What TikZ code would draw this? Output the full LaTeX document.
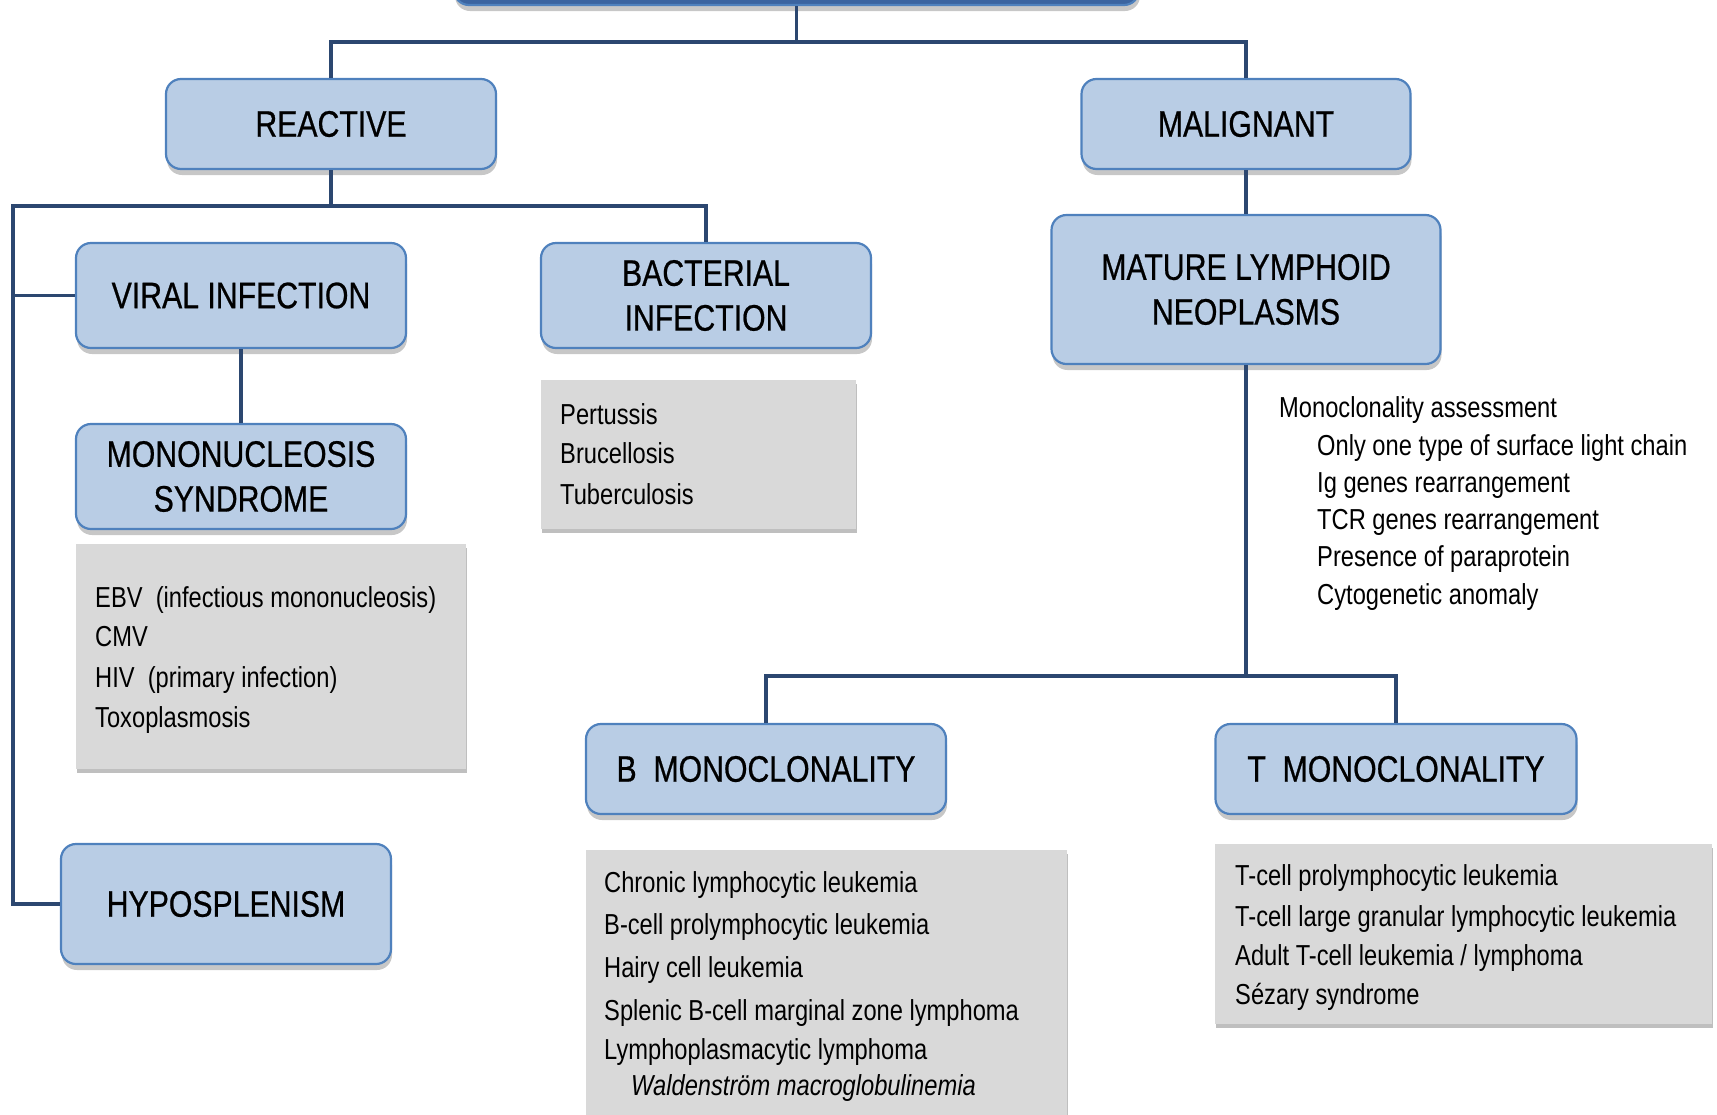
\documentclass[tikz,border=0pt]{standalone}
\usepackage{fontspec}
\setmainfont{Liberation Sans}[FakeStretch=0.82]
\newfontfamily\boxtitlefont{Liberation Sans}[FakeStretch=0.82, FakeBold=0.6]
\usetikzlibrary{shadows}
\definecolor{boxfill}{HTML}{B9CDE5}
\definecolor{boxborder}{HTML}{4F81BD}
\definecolor{topfill}{HTML}{3B64A0}
\definecolor{linecol}{HTML}{2C4770}
\definecolor{grayfill}{HTML}{D9D9D9}
\tikzset{
  bluebox/.style={draw=boxborder, line width=2.2bp, fill=boxfill, rounded corners=15bp,
    align=center, inner sep=0pt, font=\boxtitlefont\fontsize{37}{45}\selectfont,
    drop shadow={shadow xshift=1bp, shadow yshift=-6bp, fill=black, opacity=0.22}},
  graybox/.style={fill=grayfill, draw=none, inner sep=0pt,
    drop shadow={shadow xshift=1bp, shadow yshift=-4bp, fill=black, opacity=0.25}},
  listtext/.style={anchor=base west, inner sep=0pt, font=\fontsize{29}{35}\selectfont},
  conn/.style={draw=linecol, line width=3.6bp}
}
\begin{document}
\begin{tikzpicture}[x=1bp, y=-1bp]
\useasboundingbox (0,0) rectangle (1717,1114);
\clip (0,0) rectangle (1717,1114);

% blue boxes
\node[bluebox, fill=topfill, minimum width=685bp, minimum height=65bp] (top) at (796.5,-27.5) {};
\node[bluebox, minimum width=330bp, minimum height=90bp] (reactive) at (331,124) {REACTIVE};
\node[bluebox, minimum width=329bp, minimum height=90bp] (malignant) at (1246,124) {MALIGNANT};
\node[bluebox, minimum width=330bp, minimum height=105bp] (viral) at (241,295.5) {VIRAL INFECTION};
\node[bluebox, minimum width=330bp, minimum height=105bp] (bact) at (706,295.5) {BACTERIAL\\INFECTION};
\node[bluebox, minimum width=330bp, minimum height=105bp] (mono) at (241,476.5) {MONONUCLEOSIS\\SYNDROME};
\node[bluebox, minimum width=330bp, minimum height=120bp] (hypo) at (226,904) {HYPOSPLENISM};
\node[bluebox, minimum width=389bp, minimum height=149bp] (mature) at (1246,289.5) {MATURE LYMPHOID\\NEOPLASMS};
\node[bluebox, minimum width=360bp, minimum height=90bp] (bmono) at (766,769) {B\ \ MONOCLONALITY};
\node[bluebox, minimum width=361bp, minimum height=90bp] (tmono) at (1396,769) {T\ \ MONOCLONALITY};

% gray boxes
\node[graybox, minimum width=390bp, minimum height=225bp] (gebv) at (271,656.5) {};
\node[graybox, minimum width=315bp, minimum height=149bp] (gbact) at (698.5,454.5) {};
\node[graybox, minimum width=481bp, minimum height=290bp] (gb) at (826.5,995) {};
\node[graybox, minimum width=497bp, minimum height=180bp] (gt) at (1463.5,934) {};

% list texts
\node[listtext] (e1) at (95,607) {EBV\ \ (infectious mononucleosis)};
\node[listtext] (e2) at (95,646) {CMV};
\node[listtext] (e3) at (95,687) {HIV\ \ (primary infection)};
\node[listtext] (e4) at (95,727) {Toxoplasmosis};

\node[listtext] (p1) at (560,424) {Pertussis};
\node[listtext] (p2) at (560,463) {Brucellosis};
\node[listtext] (p3) at (560,504) {Tuberculosis};

\node[listtext] (b1) at (604,892) {Chronic lymphocytic leukemia};
\node[listtext] (b2) at (604,934) {B-cell prolymphocytic leukemia};
\node[listtext] (b3) at (604,977) {Hairy cell leukemia};
\node[listtext] (b4) at (604,1020) {Splenic B-cell marginal zone lymphoma};
\node[listtext] (b5) at (604,1059) {Lymphoplasmacytic lymphoma};
\node[listtext] (b6) at (631,1095) {\itshape Waldenström macroglobulinemia};

\node[listtext] (t1) at (1235,885) {T-cell prolymphocytic leukemia};
\node[listtext] (t2) at (1235,926) {T-cell large granular lymphocytic leukemia};
\node[listtext] (t3) at (1235,965) {Adult T-cell leukemia / lymphoma};
\node[listtext] (t4) at (1235,1004) {Sézary syndrome};

\node[listtext] (m0) at (1279,417) {Monoclonality assessment};
\node[listtext] (m1) at (1317,455) {Only one type of surface light chain};
\node[listtext] (m2) at (1317,492) {Ig genes rearrangement};
\node[listtext] (m3) at (1317,529) {TCR genes rearrangement};
\node[listtext] (m4) at (1317,566) {Presence of paraprotein};
\node[listtext] (m5) at (1317,604) {Cytogenetic anomaly};

% connectors
\coordinate (j1) at (796.5,42);
\coordinate (j2) at (331,206);
\coordinate (lft) at (13,206);
\coordinate (j3) at (1246,676);
\draw[conn] (top.south) -- (j1);
\draw[conn] (reactive.north) |- (j1) -| (malignant.north);
\draw[conn] (reactive.south) -- (j2);
\draw[conn] (bact.north) |- (lft) |- (hypo.west);
\draw[conn] (viral.west) -- (viral.west -| lft);
\draw[conn] (viral.south) -- (mono.north);
\draw[conn] (malignant.south) -- (mature.north);
\draw[conn] (mature.south) -- (j3);
\draw[conn] (bmono.north) |- (j3) -| (tmono.north);
\end{tikzpicture}
\end{document}
